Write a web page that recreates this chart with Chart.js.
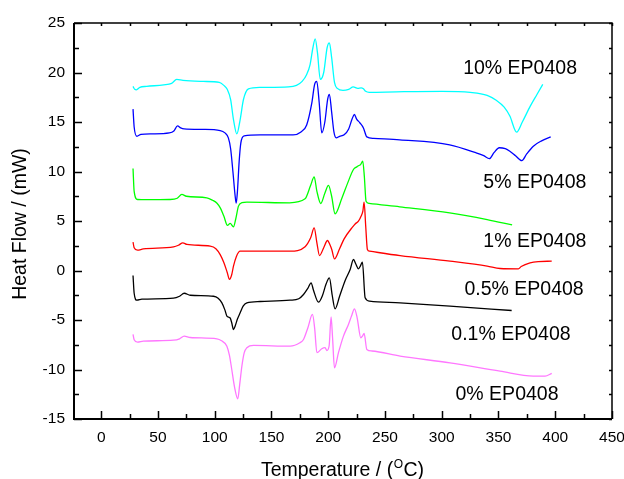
<!DOCTYPE html>
<html>
<head>
<meta charset="utf-8">
<script src="https://cdn.jsdelivr.net/npm/chart.js@4.4.1/dist/chart.umd.min.js"></script>
<style>
html,body{margin:0;padding:0;background:#fff;}
canvas{display:block;}
</style>
</head>
<body>
<canvas id="c" width="624" height="479"></canvas>
<script>
// ---- tick labels ----
const xTickValues = [0, 50, 100, 150, 200, 250, 300, 350, 400, 450];
const yTickValues = [-15, -10, -5, 0, 5, 10, 15, 20, 25];

// ---- series names ----
const seriesNames = ['10% EP0408', '5% EP0408', '1% EP0408', '0.5% EP0408', '0.1% EP0408', '0% EP0408'];

// ---- 10% EP0408 ----
const t10 = [28, 29.5, 31, 34, 40, 55, 62, 66.5, 72, 90, 104, 108, 111, 114, 116.5, 119.5, 122.4, 125.3, 129.7, 140, 165, 172, 177, 181, 184, 186.5, 188.5, 190.5, 193, 196, 199, 201, 203, 205.5, 208, 213, 218, 222, 226, 229, 231, 233, 236, 260, 300, 325, 340, 348, 355, 360, 366, 371, 378, 384, 389];
const hf10 = [18.6, 18.3, 18.25, 18.5, 18.6, 18.75, 18.9, 19.3, 19.2, 19.1, 19.0, 18.7, 18.3, 17.27, 15.25, 13.8, 15.25, 17.27, 18.35, 18.5, 18.55, 18.7, 19.1, 19.8, 20.8, 22.5, 23.4, 22.0, 19.3, 20.0, 22.5, 23.0, 21.5, 19.0, 18.4, 18.2, 18.3, 18.55, 18.4, 18.45, 18.35, 18.1, 18.0, 18.05, 18.1, 18.0, 17.7, 17.2, 16.5, 15.6, 13.97, 15.0, 16.6, 17.8, 18.8];

// ---- 5% EP0408 ----
const t5 = [28, 29, 31.4, 35, 45, 60, 64, 67.2, 70, 73, 90, 104.8, 109, 112, 114, 116, 118, 118.9, 120, 121.5, 123, 126, 140, 169, 176, 181, 185.5, 188, 189.9, 192, 194.3, 197, 199.5, 201, 203, 205, 207, 210, 214, 218, 221, 223, 225, 228, 231, 234, 240, 263, 307, 330, 337, 342, 346, 350.7, 356, 360, 365, 370.5, 375, 380.7, 388, 396];
const hf5 = [16.3, 14.5, 13.56, 13.75, 13.8, 13.9, 14.1, 14.6, 14.4, 14.3, 14.25, 14.14, 13.9, 13.4, 12.3, 10.0, 7.5, 6.8, 8.0, 11.0, 12.9, 13.6, 13.7, 13.7, 14.0, 14.7, 16.9, 18.8, 19.1, 17.0, 13.9, 15.0, 17.3, 17.8, 16.0, 14.0, 13.4, 13.55, 13.7, 14.3, 15.3, 15.76, 15.3, 14.9, 14.4, 13.5, 13.35, 13.2, 12.7, 11.9, 11.6, 11.3, 11.9, 12.4, 12.3, 12.05, 11.6, 11.1, 11.8, 12.56, 13.1, 13.5];

// ---- 1% EP0408 ----
const t1 = [28, 29, 32, 40, 60, 67, 71, 75, 93, 98, 102, 105, 108, 111.2, 113.6, 116.5, 118.5, 120.9, 124, 128.3, 166, 179.6, 184.5, 187.6, 190, 193.4, 197, 200.2, 203, 206, 212, 217, 222.2, 225.2, 227, 228.5, 230.4, 231.8, 233.3, 236, 263, 307, 340, 362];
const hf1 = [10.3, 8.0, 7.17, 7.15, 7.17, 7.3, 7.68, 7.5, 7.34, 7.1, 6.8, 6.3, 5.5, 4.55, 4.76, 4.4, 5.2, 6.5, 6.85, 6.9, 6.84, 7.24, 8.6, 9.46, 8.0, 6.77, 7.8, 8.59, 7.5, 5.72, 7.3, 8.8, 10.2, 10.47, 10.6, 10.7, 11.04, 9.5, 7.0, 6.77, 6.43, 5.83, 5.15, 4.6];

// ---- 0.5% EP0408 ----
const t05 = [28, 29, 32, 37, 63.7, 68, 71.9, 75.5, 96, 101, 104.8, 108, 111, 113, 115, 116.5, 119, 122.4, 128, 166.4, 179.6, 184.5, 187.6, 190, 192.3, 196, 199.3, 201.5, 203.1, 205.5, 210, 214, 220.8, 223.7, 226.6, 229, 230.5, 231.6, 233, 234.5, 236.4, 263.3, 307.3, 340, 351.4, 367.5, 370, 377.8, 385, 396.9];
const hf05 = [2.86, 2.3, 2.05, 2.18, 2.39, 2.55, 2.8, 2.63, 2.46, 2.2, 1.6, 0.8, -0.2, -0.9, -0.4, 0.44, 1.4, 1.95, 1.95, 1.95, 2.4, 3.3, 4.3, 2.8, 1.51, 2.3, 3.03, 2.6, 2.12, 1.18, 2.2, 3.2, 4.3, 4.7, 4.98, 5.5, 6.0, 6.9, 4.5, 2.12, 1.95, 1.5, 0.94, 0.45, 0.2, 0.17, 0.4, 0.77, 0.9, 0.94];

// ---- 0.1% EP0408 ----
const t01 = [28, 29, 31.4, 35.8, 63.7, 69, 73.1, 78.4, 98.9, 103, 106.3, 109, 110.7, 113.6, 115, 116.5, 118, 120, 122.4, 125, 128.3, 140, 166.4, 174, 178.2, 182, 184.9, 187, 191.4, 195, 198, 201, 203.5, 206, 210, 214.9, 219.3, 222.2, 224.5, 226.6, 228.5, 230.1, 232.5, 236.4, 263.3, 307.3, 361.6];
const hf01 = [-0.5, -2.3, -3.0, -2.9, -2.8, -2.6, -2.3, -2.5, -2.6, -2.8, -3.27, -4.0, -4.6, -4.8, -5.3, -5.96, -5.6, -4.9, -4.27, -3.6, -3.27, -3.13, -3.0, -2.85, -2.42, -1.8, -1.24, -2.0, -3.2, -2.5, -1.4, -0.74, -2.5, -3.87, -2.6, -1.0, 0.1, 1.11, 0.6, 0.17, 0.5, 0.84, -2.76, -3.1, -3.27, -3.6, -4.04];

// ---- 0% EP0408 ----
const t0 = [28, 29, 32, 37, 63.7, 69, 73.1, 78.4, 101.9, 106, 110.7, 113, 115, 117.5, 120.3, 122, 123.9, 126, 128.3, 134.2, 166.4, 175, 178.2, 182, 186.1, 188, 190, 194.3, 197.2, 198.7, 200.8, 202.5, 203.8, 205.5, 209, 213.4, 217.8, 220.5, 223.1, 225.5, 228.7, 230.3, 231.6, 234, 238.4, 263.3, 307.3, 351.4, 380.7, 391, 396.9];
const hf0 = [-6.46, -7.0, -7.24, -7.14, -7.04, -6.9, -6.63, -6.77, -6.9, -7.1, -7.64, -8.6, -10, -11.8, -12.96, -11.5, -9.67, -8.3, -7.8, -7.57, -7.64, -7.3, -6.97, -5.8, -4.44, -5.8, -8.3, -7.9, -7.8, -8.08, -7.6, -4.68, -6.8, -9.83, -8.3, -6.63, -5.45, -4.6, -3.87, -4.8, -6.8, -6.6, -6.36, -7.98, -8.13, -8.65, -9.33, -10.17, -10.67, -10.67, -10.4];

// ---- curve label anchors (data coordinates) ----
const labelT = [369, 382, 382, 372.5, 361, 357.5];
const labelHF = [20.4, 8.9, 2.9, -1.9, -6.5, -12.5];

const colors = ['#00FFFF', '#0000FF', '#00FF00', '#FF0000', '#000000', '#FF77FF'];
const tempSets = [t10, t5, t1, t05, t01, t0];
const hfSets = [hf10, hf5, hf1, hf05, hf01, hf0];

const datasets = seriesNames.map((name, i) => ({
  label: name,
  data: tempSets[i].map((t, j) => ({x: t, y: hfSets[i][j]})),
  borderColor: colors[i],
  borderWidth: 1.3,
  pointRadius: 0,
  fill: false,
  cubicInterpolationMode: 'monotone'
}));

const FONT = "'Liberation Sans', Arial, sans-serif";

const decor = {
  id: 'decor',
  afterDraw(chart) {
    const ctx = chart.ctx;
    const a = chart.chartArea;
    const xs = chart.scales.x, ys = chart.scales.y;
    ctx.save();
    ctx.strokeStyle = '#000';
    // frame
    ctx.lineWidth = 1.5;
    ctx.beginPath();
    ctx.moveTo(a.left, a.top); ctx.lineTo(a.right, a.top); ctx.lineTo(a.right, a.bottom);
    ctx.stroke();
    ctx.lineWidth = 2;
    ctx.beginPath();
    ctx.moveTo(a.left, a.top); ctx.lineTo(a.left, a.bottom); ctx.lineTo(a.right, a.bottom);
    ctx.stroke();
    // ticks (inward)
    ctx.lineWidth = 1.5;
    ctx.beginPath();
    for (let v = 0; v <= 450; v += 25) {
      const px = Math.round(xs.getPixelForValue(v)) + 0.5;
      const len = (v % 50 === 0) ? 8 : 5;
      ctx.moveTo(px, a.bottom); ctx.lineTo(px, a.bottom - len);
      ctx.moveTo(px, a.top); ctx.lineTo(px, a.top + 3);
    }
    for (let v = -15; v <= 25; v += 2.5) {
      const py = Math.round(ys.getPixelForValue(v)) + 0.5;
      const len = (v % 5 === 0) ? 8 : 5;
      ctx.moveTo(a.left, py); ctx.lineTo(a.left + len, py);
      ctx.moveTo(a.right, py); ctx.lineTo(a.right - 3, py);
    }
    ctx.stroke();

    // curve labels
    ctx.fillStyle = '#000';
    ctx.font = '19.5px ' + FONT;
    ctx.textAlign = 'center';
    ctx.textBaseline = 'middle';
    seriesNames.forEach((n, i) => {
      ctx.fillText(n, xs.getPixelForValue(labelT[i]), ys.getPixelForValue(labelHF[i]));
    });

    // x title with superscript
    const big = '19.5px ' + FONT, small = '12px ' + FONT;
    const p1 = 'Temperature / (', p2 = 'O', p3 = 'C)';
    ctx.textAlign = 'left';
    ctx.textBaseline = 'alphabetic';
    ctx.font = big; const w1 = ctx.measureText(p1).width, w3 = ctx.measureText(p3).width;
    ctx.font = small; const w2 = ctx.measureText(p2).width;
    const cx = (a.left + a.right) / 2 - 1;
    let x0 = cx - (w1 + w2 + w3) / 2;
    const base = 476;
    ctx.font = big; ctx.fillText(p1, x0, base);
    ctx.font = small; ctx.fillText(p2, x0 + w1 + 0.5, base - 8);
    ctx.font = big; ctx.fillText(p3, x0 + w1 + w2 + 1, base);

    // y title
    ctx.save();
    ctx.translate(21, (a.top + a.bottom) / 2 + 3);
    ctx.rotate(-Math.PI / 2);
    ctx.font = big;
    ctx.textAlign = 'center';
    ctx.textBaseline = 'middle';
    ctx.fillText('Heat Flow / (mW)', 0, 0);
    ctx.restore();
    ctx.restore();
  }
};

new Chart(document.getElementById('c'), {
  type: 'line',
  data: {datasets},
  options: {
    responsive: false,
    animation: false,
    devicePixelRatio: 1,
    layout: {padding: {left: 0, right: 12, top: 23, bottom: 0}},
    plugins: {legend: {display: false}, tooltip: {enabled: false}},
    scales: {
      x: {
        type: 'linear', min: -24, max: 450,
        grid: {display: false, drawTicks: false},
        border: {display: false},
        ticks: {color: '#000', font: {family: FONT, size: 15.5}, padding: 9},
        afterBuildTicks: s => { s.ticks = xTickValues.map(v => ({value: v})); },
        afterFit: s => { s.height = 60; s.paddingLeft = 0; s.paddingRight = 0; }
      },
      y: {
        type: 'linear', min: -15, max: 25,
        grid: {display: false, drawTicks: false},
        border: {display: false},
        ticks: {color: '#000', font: {family: FONT, size: 15.5}, padding: 9},
        afterBuildTicks: s => { s.ticks = yTickValues.map(v => ({value: v})); },
        afterFit: s => { s.width = 74; s.paddingTop = 0; s.paddingBottom = 0; }
      }
    }
  },
  plugins: [decor]
});
</script>
</body>
</html>
